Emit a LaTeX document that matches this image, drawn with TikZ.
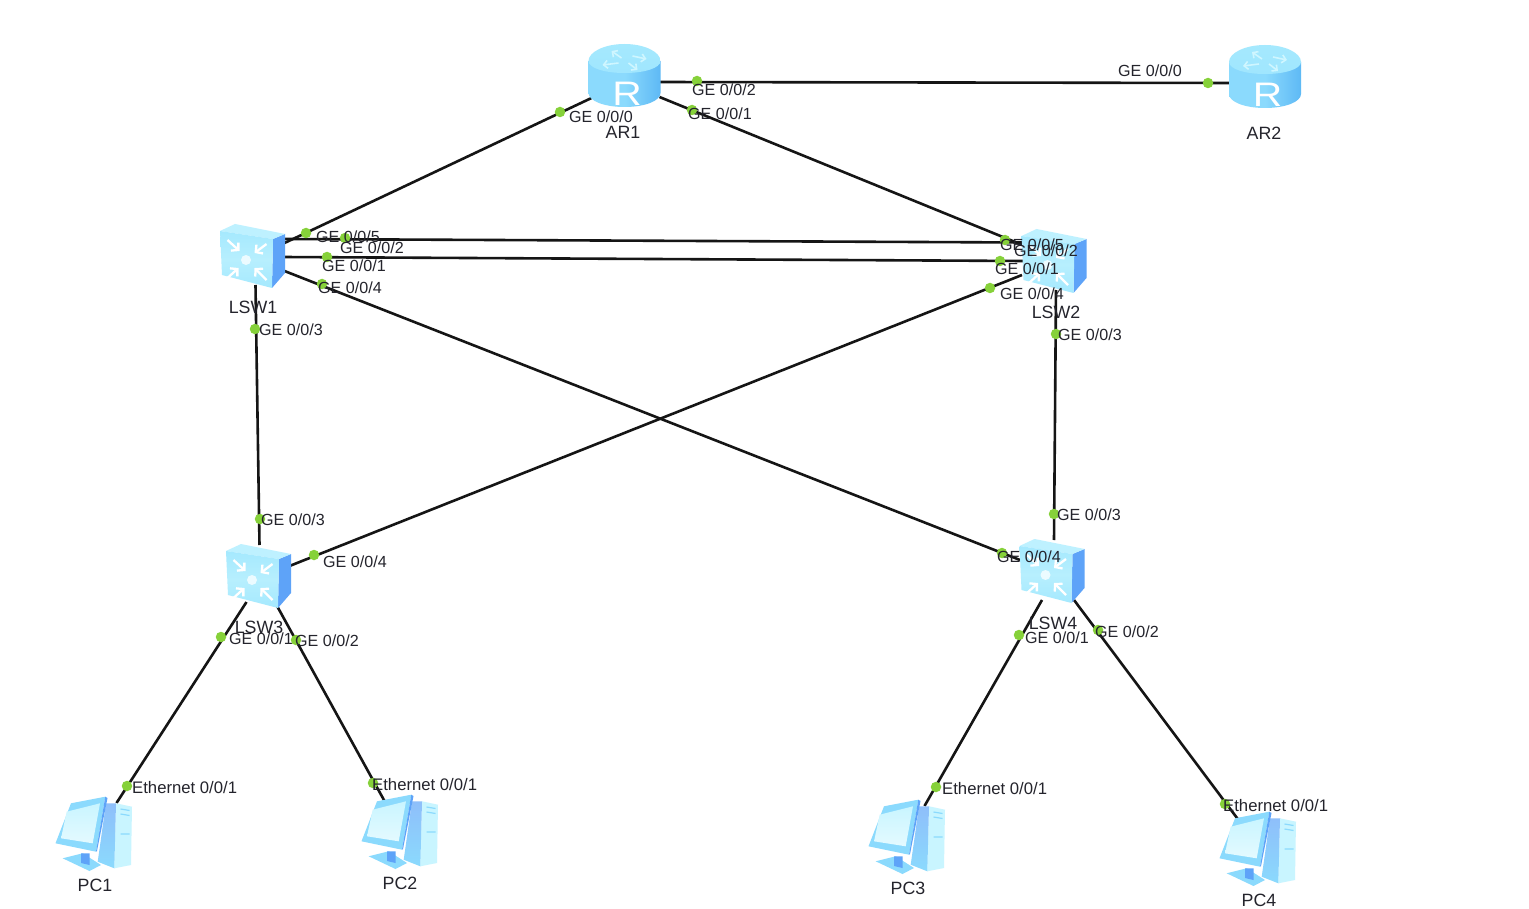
\documentclass[tikz,border=0pt]{standalone}
\usepackage{fontspec}
\setmainfont{Liberation Sans}
\usetikzlibrary{arrows.meta}
\definecolor{linkc}{HTML}{151515}
\definecolor{dotc}{HTML}{86D13A}
\definecolor{labelc}{HTML}{24242C}
\definecolor{skyA}{HTML}{A5E9FE}
\definecolor{skyB}{HTML}{8BDAFD}
\definecolor{skyC}{HTML}{5EB9F5}
\definecolor{skyD}{HTML}{C9F5FF}
\definecolor{blueS}{HTML}{5EA3F8}
\definecolor{paleC}{HTML}{CFF6FF}
\tikzset{
  x=1pt,y=-1pt,
  routerbox/.style={rectangle,inner sep=0pt,minimum width=72pt,minimum height=64pt},
  switchbox/.style={rectangle,inner sep=0pt,minimum width=66pt,minimum height=64pt},
  pcbox/.style={rectangle,inner sep=0pt,minimum width=78pt,minimum height=74pt},
  link/.style={draw=linkc,line width=2.6pt},
  port/.style={circle,fill=dotc,inner sep=0pt,minimum size=10.5pt},
  portlabel/.style={anchor=west,inner sep=0pt,text=labelc,font=\fontsize{16.1}{17}\selectfont},
  ethlabel/.style={portlabel,font=\fontsize{16.7}{17}\selectfont},
  devlabel/.style={inner sep=0pt,text=labelc,font=\fontsize{17.8}{18}\selectfont},
  swarrow/.style={draw=white,line width=2.3pt,-{Straight Barb[length=5pt,width=11pt,line width=2.3pt]}},
  rtarrow/.style={draw=paleC,line width=1.6pt,-{Straight Barb[length=4pt,width=8pt,line width=1.6pt]}},
  routericon/.pic={
    \path[left color=skyB,right color=skyC,middle color=skyB]
      (-36,-15) -- (-36,17) .. controls (-36,25) and (-20,31) .. (0,31)
      .. controls (20,31) and (36,25) .. (36,17) -- (36,-15) -- cycle;
    \path[top color=skyA,bottom color=skyA!80!skyB]
      (-36,-15) .. controls (-36,-24) and (-20,-32) .. (0,-32)
      .. controls (20,-32) and (36,-24) .. (36,-15)
      .. controls (36,-8) and (20,-3) .. (0,-3)
      .. controls (-20,-3) and (-36,-8) .. cycle;
    \draw[rtarrow] (-3,-18) -- (-13,-25);
    \draw[rtarrow] (8,-20) -- (22,-17);
    \draw[rtarrow] (-6,-13) -- (-22,-11);
    \draw[rtarrow] (4,-13) -- (13,-6);
    \node[inner sep=0pt,text=white,xscale=1.2,font=\fontsize{34}{34}\selectfont] (-r) at (2.5,17.5) {R};
  },
  switchicon/.pic={
    \path[fill=blueS] (20.5,-16) -- (32.5,-21) -- (32.5,18) -- (19.5,33) -- cycle;
    \path[fill=skyD!70!skyA] (-32.5,-24) -- (-17.5,-31) -- (32.5,-21) -- (20.5,-16) -- cycle;
    \path[top color=skyA,bottom color=skyA,middle color=skyD!50!skyA]
      (-32.5,-24) -- (20.5,-16) -- (19.5,33) -- (-30.5,20) -- cycle;
    \fill[paleC!40!white] (-6.5,5) circle (5);
    \draw[swarrow] (-25,-15) -- (-13,-4);
    \draw[swarrow] (14,-11) -- (2,-2);
    \draw[swarrow] (-25,23) -- (-14,13);
    \draw[swarrow] (14,25) -- (2,13);
  },
  pcicon/.pic={
    \path[fill=skyD] (21.5,-29.7) -- (37.5,-26.3) -- (36.5,32) -- (19.8,35.3) -- cycle;
    \draw[skyB,line width=1.2pt] (26,-24) -- (35,-22.5) (26,-19) -- (35,-17.5) (26,1) -- (35,1);
    \path[top color=blueS!70!white,bottom color=skyB] (11.5,-29.7) -- (21.5,-29.7) -- (19.8,35.3) -- (3.2,28.7) -- cycle;
    \path[fill=skyB] (-31.8,25.3) -- (-11.8,20.3) -- (6.5,32) -- (-5,38) -- cycle;
    \path[fill=blueS] (-13.5,20.3) -- (-5,20.3) -- (-5,32) -- (-13.5,30) -- cycle;
    \path[fill=skyB] (-39,10.3) -- (-23.5,-29.7) -- (10.8,-36.3) -- (1.5,18.7) -- cycle;
    \path[fill=blueS] (10.8,-36.3) -- (13,-35) -- (2.5,18) -- (1.5,18.7) -- cycle;
    \path[top color=skyD,bottom color=skyD!50!white] (-33.5,5.3) -- (-27.8,-21.3) -- (5.5,-29.7) -- (-1.8,10.3) -- cycle;
  }
}
\begin{document}
\begin{tikzpicture}
\useasboundingbox (0,0) rectangle (1529,909);
\fill[white] (0,0) rectangle (1529,909);

% device nodes
\node[routerbox] (ar1) at (624.5,76) {};
\node[routerbox] (ar2) at (1265,77) {};
\node[switchbox] (lsw1) at (252.5,255) {};
\node[switchbox] (lsw2) at (1054,260) {};
\node[switchbox] (lsw3) at (258.5,575) {};
\node[switchbox] (lsw4) at (1052,570) {};
\node[pcbox] (pc1) at (94.5,833) {};
\node[pcbox] (pc2) at (400.5,831) {};
\node[pcbox] (pc3) at (907.5,836) {};
\node[pcbox] (pc4) at (1258.5,848) {};

% connectors
\draw[link] ([shift={(30,6)}]ar1.center) -- ([shift={(-30,6)}]ar2.center);
\draw[link] ([shift={(-33,22)}]ar1.center) -- ([shift={(32,-12)}]lsw1.center);
\draw[link] ([shift={(35,21)}]ar1.center) -- ([shift={(-29,-14)}]lsw2.center);
\draw[link] ([shift={(30,-16)}]lsw1.center) -- ([shift={(-30,-17.5)}]lsw2.center);
\draw[link] ([shift={(30,2)}]lsw1.center) -- ([shift={(-30,1)}]lsw2.center);
\draw[link] ([shift={(32,16)}]lsw1.center) -- ([shift={(-32,-10)}]lsw4.center);
\draw[link] ([shift={(-32,15)}]lsw2.center) -- ([shift={(31,-9)}]lsw3.center);
\draw[link] ([shift={(3,30)}]lsw1.center) -- ([shift={(1,-30)}]lsw3.center);
\draw[link] ([shift={(2,30)}]lsw2.center) -- ([shift={(2,-30)}]lsw4.center);
\draw[link] ([shift={(-12,27)}]lsw3.center) -- ([shift={(22,-30)}]pc1.center);
\draw[link] ([shift={(18,30)}]lsw3.center) -- ([shift={(-16,-30)}]pc2.center);
\draw[link] ([shift={(-10,30)}]lsw4.center) -- ([shift={(17,-30)}]pc3.center);
\draw[link] ([shift={(22,30)}]lsw4.center) -- ([shift={(-20,-28)}]pc4.center);

% icons
\pic (iar1) at (ar1.center) {routericon};
\pic (iar2) at (ar2.center) {routericon};
\pic at (lsw1.center) {switchicon};
\pic at (lsw2.center) {switchicon};
\pic at (lsw3.center) {switchicon};
\pic at (lsw4.center) {switchicon};
\pic at (pc1.center) {pcicon};
\pic at (pc2.center) {pcicon};
\pic at (pc3.center) {pcicon};
\pic at (pc4.center) {pcicon};

% port dots
\foreach \n/\px/\py in {p1/560/112,p2/697/81,p3/692/110,p4/1208/83,p5/306/233,p6/345/238,p7/327/257,p8/322/284,p9/255/329,
  p10/1005/240,p11/1000/261,p12/990/288,p13/1056/334,p14/1054/514,p15/1002/553,p16/260/519,p17/314/555,p18/221/637,p19/296/640,
  p20/1019/635,p21/1098/630,p22/127/786,p23/373/783,p24/936/787,p25/1225/804}{
  \node[port] (\n) at (\px,\py) {};
}

% port labels
\node[portlabel] (l1) at (569,117) {GE 0/0/0};
\node[portlabel] (l2) at (692,90) {GE 0/0/2};
\node[portlabel] (l3) at (688,114) {GE 0/0/1};
\node[portlabel] (l4) at (1118,71) {GE 0/0/0};
\node[portlabel] (l5) at (316,237) {GE 0/0/5};
\node[portlabel] (l6) at (340,248) {GE 0/0/2};
\node[portlabel] (l7) at (322,266) {GE 0/0/1};
\node[portlabel] (l8) at (318,288) {GE 0/0/4};
\node[portlabel] (l9) at (259,330) {GE 0/0/3};
\node[portlabel] (l10) at (1000,245) {GE 0/0/5};
\node[portlabel] (l11) at (1014,251) {GE 0/0/2};
\node[portlabel] (l12) at (995,269) {GE 0/0/1};
\node[portlabel] (l13) at (1000,294) {GE 0/0/4};
\node[portlabel] (l14) at (1058,335) {GE 0/0/3};
\node[portlabel] (l15) at (261,520) {GE 0/0/3};
\node[portlabel] (l16) at (323,562) {GE 0/0/4};
\node[portlabel] (l17) at (229,639) {GE 0/0/1};
\node[portlabel] (l18) at (295,641) {GE 0/0/2};
\node[portlabel] (l19) at (1057,515) {GE 0/0/3};
\node[portlabel] (l20) at (997,557) {GE 0/0/4};
\node[portlabel] (l21) at (1025,638) {GE 0/0/1};
\node[portlabel] (l22) at (1095,632) {GE 0/0/2};
\node[ethlabel] (l23) at (132,788) {Ethernet 0/0/1};
\node[ethlabel] (l24) at (372,785) {Ethernet 0/0/1};
\node[ethlabel] (l25) at (942,789) {Ethernet 0/0/1};
\node[ethlabel] (l26) at (1223,806) {Ethernet 0/0/1};

% device names
\node[devlabel] (nar1) at (623,132) {AR1};
\node[devlabel] (nar2) at (1264,133) {AR2};
\node[devlabel] (nlsw1) at (253,307) {LSW1};
\node[devlabel] (nlsw2) at (1056,312) {LSW2};
\node[devlabel] (nlsw3) at (259,627) {LSW3};
\node[devlabel] (nlsw4) at (1053,623) {LSW4};
\node[devlabel] (npc1) at (95,885) {PC1};
\node[devlabel] (npc2) at (400,883) {PC2};
\node[devlabel] (npc3) at (908,888) {PC3};
\node[devlabel] (npc4) at (1259,900) {PC4};
\end{tikzpicture}
\end{document}
